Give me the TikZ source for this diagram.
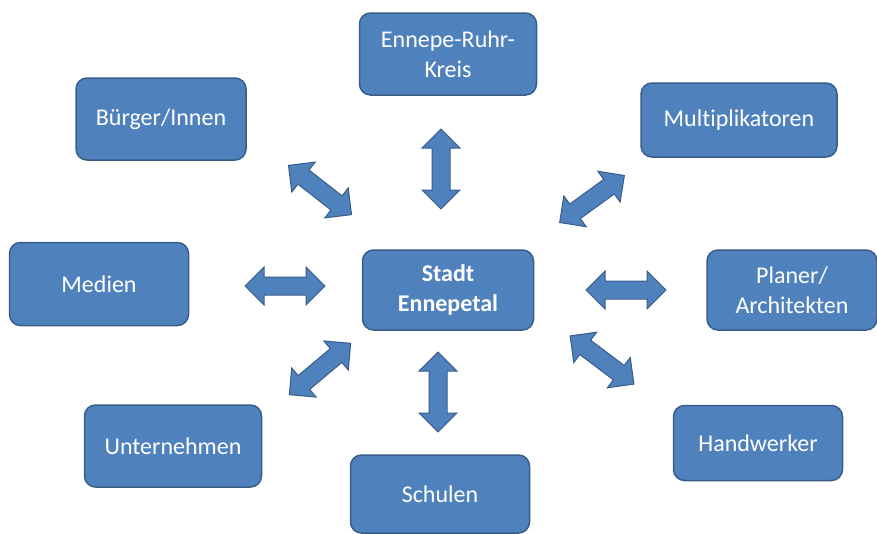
\documentclass[tikz,border=0pt]{standalone}
\usepackage{fontspec}
\setmainfont{Carlito}[Ligatures=NoCommon]
\usetikzlibrary{shapes.arrows}
\definecolor{boxblue}{HTML}{4F81BD}
\definecolor{boxline}{HTML}{385D8A}

\begin{document}
\begin{tikzpicture}[x=1pt,y=1pt,
    party/.style={draw=boxline, fill=boxblue, line width=1.5pt, rounded corners=11pt,
        text=white, align=center, font=\fontsize{24}{30}\selectfont, inner sep=0pt},
    link/.style={double arrow, draw=boxline, fill=boxblue, line width=1pt,
        minimum height=80pt, inner xsep=0pt, inner ysep=8.5pt, double arrow head extend=10pt}]

    \useasboundingbox (0,0) rectangle (877,-533);

    % centre
    \node [party, minimum width=171pt, minimum height=80pt] (stadt) at (448,-290) {\bfseries Stadt\\\bfseries Ennepetal};

    % partners
    \node [party, minimum width=177pt, minimum height=82pt] (kreis) at (448,-54) {Ennepe-Ruhr-\\Kreis};
    \node [party, minimum width=170pt, minimum height=82pt] (buerger) at (161,-119) {Bürger/Innen};
    \node [party, minimum width=196pt, minimum height=74pt] (multi) at (739,-120) {Multiplikatoren};
    \node [party, minimum width=179pt, minimum height=83pt] (medien) at (99,-284) {Medien};
    \node [party, minimum width=170pt, minimum height=80pt] (planer) at (792,-290) {Planer/\\Architekten};
    \node [party, minimum width=177pt, minimum height=82pt] (untern) at (173,-446) {Unternehmen};
    \node [party, minimum width=179pt, minimum height=78pt] (schulen) at (440,-494) {Schulen};
    \node [party, minimum width=169pt, minimum height=75pt] (handw) at (758,-443) {Handwerker};

    % links
    \node [link, rotate=90] (l-kreis) at (441,-169) {};
    \node [link, rotate=90] (l-schulen) at (438,-392) {};
    \node [link] (l-medien) at (285,-286) {};
    \node [link] (l-planer) at (626,-290) {};
    \node [link, rotate=-38] (l-buerger) at (320,-190) {};
    \node [link, rotate=36] (l-multi) at (592,-199) {};
    \node [link, rotate=40] (l-untern) at (320,-369) {};
    \node [link, rotate=-37] (l-handw) at (602,-360) {};

\end{tikzpicture}
\end{document}
